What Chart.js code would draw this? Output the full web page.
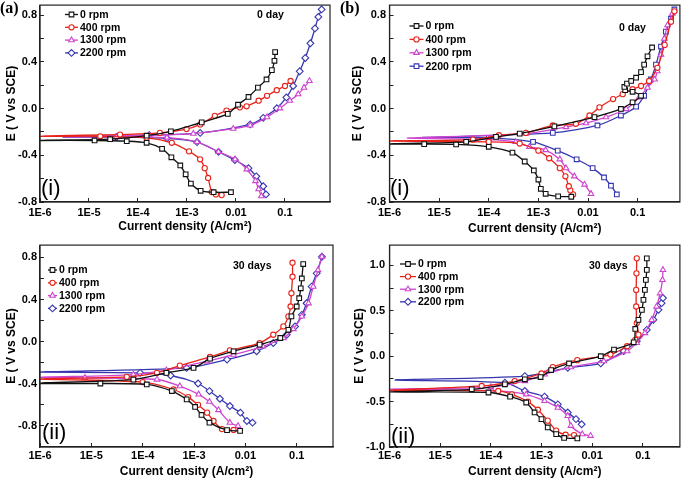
<!DOCTYPE html>
<html>
<head>
<meta charset="utf-8">
<script src="https://cdn.jsdelivr.net/npm/chart.js@4.4.1/dist/chart.umd.min.js"></script>
<style>
  html, body { margin: 0; padding: 0; background: #fff; }
  #fig { position: relative; width: 685px; height: 479px; overflow: hidden; }
  canvas { position: absolute; }
</style>
</head>
<body>
<div id="fig">
  <canvas id="chartA" width="340" height="240" style="left:0;top:0"></canvas>
  <canvas id="chartB" width="345" height="240" style="left:340px;top:0"></canvas>
  <canvas id="chartC" width="340" height="239" style="left:0;top:240px"></canvas>
  <canvas id="chartD" width="345" height="239" style="left:340px;top:240px"></canvas>
</div>
<script>
// series names shared by all four panels
var seriesNames = ['0 rpm', '400 rpm', '1300 rpm', '2200 rpm'];
var seriesColors = ['#111111', '#e8231b', '#cf45cf', '#3636b0'];

// x axis (log current density) tick values and labels
var xTickValues = [1e-6, 1e-5, 1e-4, 1e-3, 0.01, 0.1];
var xTickLabels = ['1E-6', '1E-5', '1E-4', '1E-3', '0.01', '0.1'];

// y axis ticks (minor ticks carry an empty label)
var yTickValues = [-0.8, -0.6, -0.4, -0.2, 0, 0.2, 0.4, 0.6, 0.8];
var yTickLabels = ['-0.8', '', '-0.4', '', '0.0', '', '0.4', '', '0.8'];
var yTickValuesD = [-1.0, -0.75, -0.5, -0.25, 0, 0.25, 0.5, 0.75, 1.0];
var yTickLabelsD = ['-1.0', '', '-0.5', '', '0.0', '', '0.5', '', '1.0'];

// (a) 0 day, current density (A/cm2) and potential (V vs SCE)
var aCur0 = [7.9e-3, 3.5e-3, 1.9e-3, 1.2e-3, 9.4e-4, 7.3e-4, 4.8e-4, 3.1e-4, 1.5e-4, 5.9e-5, 1.3e-5, 1.0e-6, 1.4e-6, 2.7e-5, 1.5e-4, 4.7e-4, 2.0e-3, 6.8e-3, 1.1e-2, 1.8e-2, 2.8e-2, 4.2e-2, 5.4e-2, 6.1e-2, 6.3e-2];
var aPot0 = [-0.716, -0.716, -0.704, -0.642, -0.563, -0.487, -0.417, -0.344, -0.293, -0.279, -0.273, -0.273, -0.27, -0.262, -0.232, -0.194, -0.118, -0.045, 0.034, 0.10, 0.18, 0.25, 0.33, 0.41, 0.485];
var aCur1 = [5.1e-3, 3.9e-3, 3.2e-3, 2.7e-3, 2.3e-3, 1.85e-3, 1.1e-3, 4.9e-4, 1.5e-4, 1.7e-5, 1.0e-6, 1.4e-6, 4.3e-5, 2.8e-4, 9.8e-4, 1.86e-3, 3.7e-3, 6.4e-3, 1.2e-2, 1.65e-2, 2.9e-2, 4.3e-2, 6.8e-2, 0.10, 0.13];
var aPot1 = [-0.741, -0.735, -0.715, -0.594, -0.51, -0.434, -0.366, -0.293, -0.25, -0.237, -0.237, -0.233, -0.222, -0.208, -0.175, -0.135, -0.062, -0.017, 0.011, 0.02, 0.068, 0.11, 0.158, 0.194, 0.237];
var aCur2 = [3.3e-2, 2.9e-2, 2.5e-2, 1.66e-2, 9.6e-3, 4.4e-3, 1.6e-3, 3.9e-4, 3.6e-5, 3.0e-6, 4.1e-6, 1.7e-4, 1.35e-3, 8.8e-3, 1.95e-2, 4.3e-2, 7.9e-2, 0.126, 0.186, 0.245, 0.316];
var aPot2 = [-0.75, -0.69, -0.62, -0.52, -0.434, -0.37, -0.285, -0.248, -0.242, -0.242, -0.238, -0.228, -0.214, -0.172, -0.144, -0.073, 0.003, 0.068, 0.124, 0.18, 0.237];
var aCur3 = [4.1e-2, 3.6e-2, 2.6e-2, 1.8e-2, 9.5e-3, 4.4e-3, 1.6e-3, 3.9e-4, 3.6e-5, 3.0e-6, 4.1e-6, 1.7e-4, 1.86e-3, 1.95e-2, 3.6e-2, 6.8e-2, 0.107, 0.147, 0.2, 0.26, 0.33, 0.41, 0.48, 0.56];
var aPot3 = [-0.735, -0.665, -0.58, -0.51, -0.44, -0.37, -0.287, -0.254, -0.244, -0.244, -0.24, -0.228, -0.208, -0.135, -0.079, 0.003, 0.096, 0.194, 0.32, 0.434, 0.56, 0.687, 0.786, 0.85];

// (b) 0 day
var bCur0 = [4.6e-3, 2.5e-3, 1.4e-3, 1.12e-3, 1.0e-3, 8.1e-4, 5.3e-4, 3.0e-4, 1.0e-4, 2.2e-5, 5.0e-6, 1.0e-6, 1.2e-6, 3.5e-5, 1.4e-4, 4.2e-4, 2.1e-3, 1.35e-2, 4.6e-2, 7.9e-2, 0.117, 0.079, 0.056, 0.054, 0.061, 0.074, 0.093, 0.117, 0.135, 0.158, 0.195];
var bPot0 = [-0.755, -0.752, -0.73, -0.687, -0.608, -0.53, -0.453, -0.377, -0.327, -0.307, -0.304, -0.304, -0.30, -0.284, -0.242, -0.214, -0.152, -0.073, -0.003, 0.054, 0.11, 0.144, 0.158, 0.186, 0.214, 0.237, 0.265, 0.313, 0.377, 0.448, 0.524];
var bCur1 = [5.0e-3, 4.4e-3, 4.1e-3, 3.5e-3, 2.7e-3, 1.65e-3, 1.0e-3, 4.2e-4, 1.0e-4, 1.0e-6, 1.3e-6, 4.8e-5, 1.6e-4, 5.6e-4, 1.95e-3, 5.7e-3, 1.07e-2, 1.7e-2, 3.2e-2, 5.0e-2, 7.9e-2, 0.117, 0.17, 0.25, 0.35, 0.47, 0.55];
var bPot1 = [-0.735, -0.70, -0.665, -0.58, -0.51, -0.425, -0.36, -0.299, -0.285, -0.279, -0.276, -0.265, -0.228, -0.208, -0.144, -0.13, -0.059, 0.011, 0.082, 0.124, 0.166, 0.194, 0.237, 0.35, 0.546, 0.744, 0.834];
var bCur2 = [1.15e-2, 8.5e-3, 5.3e-3, 3.6e-3, 2.7e-3, 1.4e-3, 6.6e-4, 3.5e-4, 1.0e-4, 2.3e-6, 3.0e-6, 5.6e-4, 3.6e-3, 9.1e-3, 2.3e-2, 5.9e-2, 0.107, 0.158, 0.22, 0.25, 0.295, 0.345, 0.40, 0.50];
var bPot2 = [-0.73, -0.65, -0.58, -0.51, -0.434, -0.355, -0.327, -0.285, -0.265, -0.253, -0.25, -0.214, -0.158, -0.124, -0.073, -0.003, 0.096, 0.18, 0.25, 0.321, 0.462, 0.60, 0.715, 0.814];
var bCur3 = [3.8e-2, 2.9e-2, 2.1e-2, 1.24e-2, 5.9e-3, 2.45e-3, 7.8e-4, 1.0e-4, 4.5e-6, 6.0e-6, 1.95e-3, 1.55e-2, 4.6e-2, 9.3e-2, 0.135, 0.185, 0.234, 0.295, 0.37, 0.47, 0.55];
var bPot3 = [-0.735, -0.66, -0.59, -0.51, -0.434, -0.36, -0.285, -0.25, -0.248, -0.246, -0.208, -0.144, -0.059, 0.017, 0.11, 0.25, 0.377, 0.532, 0.66, 0.77, 0.85];

// (c) 30 days
var cCur0 = [7.9e-3, 4.4e-3, 2.0e-3, 1.4e-3, 1.05e-3, 7.2e-4, 3.7e-4, 1.2e-4, 1.5e-5, 1.0e-6, 1.3e-6, 6.6e-5, 2.9e-4, 9.8e-4, 2.05e-3, 5.9e-3, 1.9e-2, 4.8e-2, 6.9e-2, 7.9e-2, 0.1, 0.112, 0.12, 0.126, 0.134];
var cPot0 = [-0.847, -0.84, -0.769, -0.696, -0.62, -0.548, -0.469, -0.406, -0.397, -0.397, -0.39, -0.36, -0.296, -0.249, -0.161, -0.091, -0.028, 0.035, 0.113, 0.24, 0.334, 0.413, 0.507, 0.60, 0.737];
var cCur1 = [5.9e-3, 3.5e-3, 2.4e-3, 1.8e-3, 1.2e-3, 7.7e-4, 4.0e-4, 1.0e-4, 1.0e-6, 1.3e-6, 4.9e-5, 1.9e-4, 5.3e-4, 2.05e-3, 5.0e-3, 1.9e-2, 3.5e-2, 5.5e-2, 6.9e-2, 7.6e-2, 7.9e-2, 8.3e-2, 8.3e-2];
var cPot1 = [-0.838, -0.83, -0.753, -0.674, -0.60, -0.526, -0.454, -0.384, -0.355, -0.352, -0.334, -0.296, -0.227, -0.145, -0.082, -0.013, 0.066, 0.145, 0.24, 0.334, 0.46, 0.617, 0.75];
var cCur2 = [7.2e-3, 5.0e-3, 3.0e-3, 2.0e-3, 1.23e-3, 5.3e-4, 1.9e-4, 7.5e-6, 1.0e-6, 1.3e-6, 6.6e-5, 2.9e-4, 1.8e-3, 5.9e-3, 2.2e-2, 5.5e-2, 8.6e-2, 0.126, 0.17, 0.21, 0.26, 0.31];
var cPot2 = [-0.80, -0.769, -0.649, -0.57, -0.50, -0.422, -0.359, -0.343, -0.34, -0.337, -0.312, -0.271, -0.186, -0.123, -0.044, 0.035, 0.12, 0.24, 0.365, 0.523, 0.68, 0.806];
var cCur3 = [1.38e-2, 1.07e-2, 8.0e-3, 5.0e-3, 3.2e-3, 2.0e-3, 1.2e-3, 3.5e-4, 8.9e-5, 1.0e-6, 1.3e-6, 7.2e-4, 4.4e-3, 1.66e-2, 3.5e-2, 6.4e-2, 9.3e-2, 0.126, 0.156, 0.195, 0.245, 0.31];
var cPot3 = [-0.769, -0.753, -0.674, -0.611, -0.542, -0.469, -0.397, -0.321, -0.296, -0.29, -0.287, -0.249, -0.17, -0.091, -0.013, 0.066, 0.145, 0.255, 0.365, 0.523, 0.649, 0.806];

// (d) 30 days
var dCur0 = [5.1e-3, 2.8e-3, 1.95e-3, 1.33e-3, 1.0e-3, 7.3e-4, 5.0e-4, 2.4e-4, 9.0e-5, 1.0e-6, 1.3e-6, 4.2e-5, 1.9e-4, 4.7e-4, 9.6e-4, 1.55e-3, 3.5e-3, 1.48e-2, 2.7e-2, 6.6e-2, 7.1e-2, 8.2e-2, 9.6e-2, 0.103, 0.11, 0.115, 0.12, 0.12];
var dPot0 = [-0.905, -0.90, -0.858, -0.785, -0.693, -0.62, -0.51, -0.445, -0.40, -0.394, -0.39, -0.365, -0.31, -0.255, -0.23, -0.153, -0.08, 0.0, 0.073, 0.153, 0.30, 0.40, 0.51, 0.62, 0.73, 0.84, 0.95, 1.077];
var dCur1 = [4.4e-3, 3.0e-3, 1.95e-3, 1.33e-3, 8.5e-4, 5.4e-4, 2.6e-4, 1.4e-4, 1.0e-6, 1.3e-6, 6.6e-5, 2.95e-4, 1.0e-3, 1.67e-3, 5.1e-3, 2.3e-2, 4.9e-2, 7.1e-2, 8.2e-2, 7.6e-2, 7.4e-2, 7.4e-2, 7.5e-2, 7.6e-2];
var dPot1 = [-0.869, -0.865, -0.82, -0.71, -0.59, -0.50, -0.42, -0.383, -0.376, -0.372, -0.328, -0.274, -0.19, -0.12, -0.044, 0.018, 0.11, 0.18, 0.237, 0.365, 0.547, 0.73, 0.912, 1.077];
var dCur2 = [9.3e-3, 6.4e-3, 3.8e-3, 3.3e-3, 2.1e-3, 1.15e-3, 5.0e-4, 1.05e-4, 1.0e-6, 1.3e-6, 1.0e-4, 4.7e-4, 1.15e-3, 3.8e-3, 1.7e-2, 4.9e-2, 7.6e-2, 0.11, 0.15, 0.187, 0.22, 0.245, 0.25];
var dPot2 = [-0.876, -0.858, -0.766, -0.657, -0.566, -0.493, -0.42, -0.38, -0.365, -0.362, -0.34, -0.274, -0.20, -0.12, -0.055, 0.055, 0.146, 0.255, 0.40, 0.547, 0.693, 0.84, 0.95];
var dCur3 = [6.2e-3, 4.8e-3, 3.3e-3, 2.1e-3, 1.15e-3, 4.7e-4, 1.9e-4, 1.3e-6, 1.6e-6, 4.7e-4, 3.3e-3, 1.48e-2, 4.2e-2, 7.6e-2, 0.12, 0.162, 0.204, 0.235, 0.25];
var dPot3 = [-0.75, -0.693, -0.62, -0.53, -0.445, -0.383, -0.292, -0.263, -0.26, -0.219, -0.128, -0.08, 0.055, 0.164, 0.29, 0.40, 0.51, 0.584, 0.64];

Chart.defaults.font.family = '"Liberation Sans", Arial, sans-serif';
Chart.defaults.color = '#000';

var markerSize = { rect: 3.3, rectRot: 3.4, triangle: 3.2, circle: 2.6 };

function drawMarker(ctx, style, r, x, y) {
    if (Chart.helpers && Chart.helpers.drawPoint) {
        Chart.helpers.drawPoint(ctx, { pointStyle: style, radius: r, rotation: 0, borderWidth: 1.1 }, x, y);
        return;
    }
    ctx.beginPath();
    ctx.arc(x, y, r, 0, Math.PI * 2);
    ctx.fill();
    ctx.stroke();
}

// frame, legend and the labels inside each panel
var panelDecor = {
    id: 'panelDecor',
    afterDraw: function (chart, args, o) {
        var ctx = chart.ctx, a = chart.chartArea;
        ctx.save();
        ctx.strokeStyle = '#222';
        ctx.lineWidth = 1.2;
        ctx.strokeRect(a.left, a.top, a.right - a.left, a.bottom - a.top);

        chart.data.datasets.forEach(function (ds, k) {
            var y = o.legendY + k * o.legendGap;
            ctx.strokeStyle = ds.borderColor;
            ctx.lineWidth = 1.3;
            ctx.beginPath();
            ctx.moveTo(o.legendX, y);
            ctx.lineTo(o.legendX + o.legendLen, y);
            ctx.stroke();
            ctx.fillStyle = '#fff';
            ctx.lineWidth = 1.1;
            drawMarker(ctx, ds.pointStyle, markerSize[ds.pointStyle], o.legendX + o.legendLen / 2, y);
            ctx.fillStyle = '#000';
            ctx.font = 'bold 10.5px "Liberation Sans", Arial, sans-serif';
            ctx.textBaseline = 'middle';
            ctx.textAlign = 'left';
            ctx.fillText(ds.label, o.legendX + o.legendLen + 2, y + 0.5);
        });

        ctx.fillStyle = '#000';
        ctx.textBaseline = 'middle';
        ctx.font = 'bold 10.5px "Liberation Sans", Arial, sans-serif';
        ctx.fillText(o.day, o.dayX, o.dayY);

        ctx.textBaseline = 'alphabetic';
        ctx.font = 'bold 16px "Liberation Serif", "Times New Roman", serif';
        ctx.fillText(o.tag, o.tagX, 13);

        ctx.font = '22px "Liberation Sans", Arial, sans-serif';
        ctx.fillText(o.roman, o.romanX, o.romanY);
        ctx.restore();
    }
};

function buildPanel(id, p) {
    var datasets = p.series.map(function (s, k) {
        var minX = Math.min.apply(null, s[0]);
        var style = p.markers[k];
        return {
            label: seriesNames[k],
            data: s[0].map(function (x, j) { return { x: x, y: s[1][j] }; }),
            borderColor: seriesColors[k],
            backgroundColor: '#fff',
            borderWidth: 1.3,
            tension: 0.25,
            pointStyle: style,
            pointRadius: function (c) {
                return c.raw && c.raw.x < minX * 1.6 ? 0 : markerSize[style];
            },
            pointBorderWidth: 1.1,
            pointBackgroundColor: '#fff',
            pointBorderColor: seriesColors[k]
        };
    });

    new Chart(document.getElementById(id), {
        type: 'line',
        data: { datasets: datasets },
        plugins: [panelDecor],
        options: {
            responsive: false,
            animation: false,
            events: [],
            layout: { padding: { left: 0, top: p.top, right: p.right, bottom: 0 } },
            plugins: {
                legend: { display: false },
                tooltip: { enabled: false },
                panelDecor: p.decor
            },
            scales: {
                x: {
                    type: 'logarithmic',
                    min: 1e-6,
                    max: p.xMax,
                    afterBuildTicks: function (s) {
                        s.ticks = xTickValues.map(function (v) { return { value: v }; });
                    },
                    afterFit: function (s) {
                        s.height = p.xHeight;
                        s.paddingLeft = 0;
                        s.paddingRight = 0;
                    },
                    ticks: {
                        autoSkip: false,
                        maxRotation: 0,
                        padding: p.xPad,
                        color: '#000',
                        font: { size: 11, weight: 'bold' },
                        callback: function (v, i) { return xTickLabels[i]; }
                    },
                    grid: { drawOnChartArea: false, tickLength: -4, tickColor: '#222', tickWidth: 1 },
                    border: { color: '#222', width: 1.2 },
                    title: {
                        display: true,
                        text: 'Current density (A/cm\u00b2)',
                        color: '#000',
                        font: { size: 12, weight: 'bold' },
                        padding: { top: 0, bottom: p.xTitlePad }
                    }
                },
                y: {
                    type: 'linear',
                    min: p.yMin,
                    max: p.yMax,
                    afterBuildTicks: function (s) {
                        s.ticks = p.yTicks.map(function (v) { return { value: v }; });
                    },
                    afterFit: function (s) {
                        s.width = p.yWidth;
                        s.paddingTop = 0;
                        s.paddingBottom = 0;
                    },
                    ticks: {
                        autoSkip: false,
                        padding: p.yPad,
                        color: '#000',
                        font: { size: 11, weight: 'bold' },
                        callback: function (v, i) { return p.yLabels[i]; }
                    },
                    grid: { drawOnChartArea: false, tickLength: -4, tickColor: '#222', tickWidth: 1 },
                    border: { color: '#222', width: 1.2 },
                    title: {
                        display: true,
                        text: 'E ( V vs SCE)',
                        color: '#000',
                        font: { size: 12, weight: 'bold' },
                        padding: { top: p.yTitlePad, bottom: 0 }
                    }
                }
            }
        }
    });
}

buildPanel('chartA', {
    series: [[aCur0, aPot0], [aCur1, aPot1], [aCur2, aPot2], [aCur3, aPot3]],
    markers: ['rect', 'circle', 'triangle', 'rectRot'],
    top: 3, right: 10, yWidth: 40, xHeight: 38,
    xMax: 0.83, yMin: -0.8, yMax: 0.887,
    yTicks: yTickValues, yLabels: yTickLabels,
    xPad: 8, yPad: 7, yTitlePad: 4, xTitlePad: 6,
    decor: { legendX: 65, legendY: 14.5, legendGap: 12.8, legendLen: 13, day: '0 day', dayX: 257, dayY: 15,
             tag: '(a)', tagX: 0, roman: '(i)', romanX: 41, romanY: 195 }
});

buildPanel('chartB', {
    series: [[bCur0, bPot0], [bCur1, bPot1], [bCur2, bPot2], [bCur3, bPot3]],
    markers: ['rect', 'circle', 'triangle', 'rect'],
    top: 3, right: 4.3, yWidth: 49.5, xHeight: 38,
    xMax: 0.71, yMin: -0.8, yMax: 0.887,
    yTicks: yTickValues, yLabels: yTickLabels,
    xPad: 8, yPad: 7.5, yTitlePad: 10, xTitlePad: 3.8,
    decor: { legendX: 69.5, legendY: 26, legendGap: 13.4, legendLen: 14, day: '0 day', dayX: 279, dayY: 28,
             tag: '(b)', tagX: 0, roman: '(i)', romanX: 50, romanY: 195 }
});

buildPanel('chartC', {
    series: [[cCur0, cPot0], [cCur1, cPot1], [cCur2, cPot2], [cCur3, cPot3]],
    markers: ['rect', 'circle', 'triangle', 'rectRot'],
    top: 5, right: 7, yWidth: 40, xHeight: 32,
    xMax: 0.51, yMin: -1.0, yMax: 0.917,
    yTicks: yTickValues, yLabels: yTickLabels,
    xPad: 6, yPad: 7, yTitlePad: 4, xTitlePad: 0,
    decor: { legendX: 48, legendY: 30, legendGap: 12.8, legendLen: 9, day: '30 days', dayX: 233, dayY: 26,
             tag: '', tagX: 0, roman: '(ii)', romanX: 42, romanY: 199 }
});

buildPanel('chartD', {
    series: [[dCur0, dPot0], [dCur1, dPot1], [dCur2, dPot2], [dCur3, dPot3]],
    markers: ['rect', 'circle', 'triangle', 'rectRot'],
    top: 5, right: 2, yWidth: 49.5, xHeight: 32,
    xMax: 0.54, yMin: -1.0, yMax: 1.223,
    yTicks: yTickValuesD, yLabels: yTickLabelsD,
    xPad: 6, yPad: 8.5, yTitlePad: 12, xTitlePad: 0,
    decor: { legendX: 60, legendY: 24, legendGap: 12.6, legendLen: 16, day: '30 days', dayX: 249, dayY: 26,
             tag: '', tagX: 0, roman: '(ii)', romanX: 51, romanY: 203 }
});
</script>
</body>
</html>
